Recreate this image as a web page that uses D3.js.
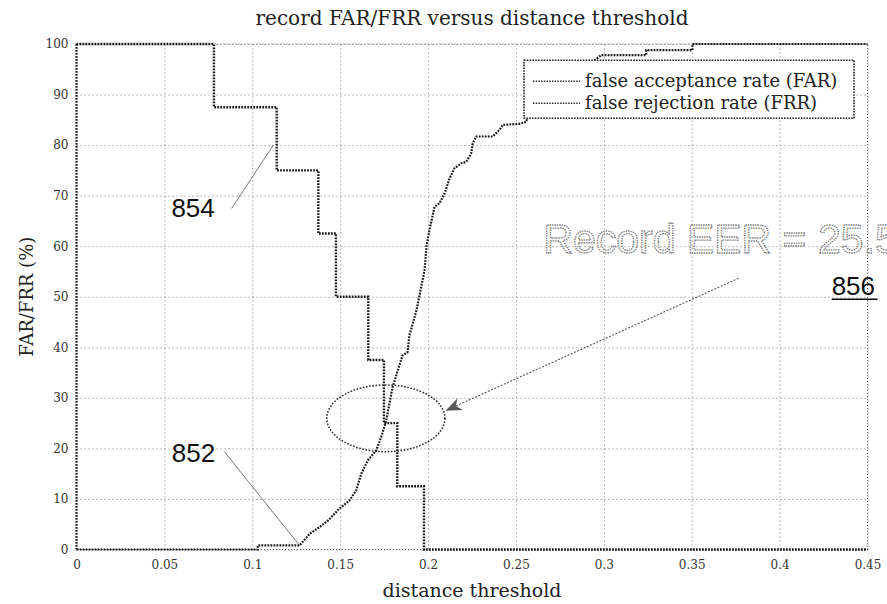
<!DOCTYPE html>
<html>
<head>
<meta charset="utf-8">
<script src="https://cdn.jsdelivr.net/npm/d3@7"></script>
<style>
  body { margin: 0; background: #fff; }
  svg { display: block; }
  text { font-family: "DejaVu Serif", "Liberation Serif", serif; fill: #222; }
</style>
</head>
<body>
<svg width="887" height="604"></svg>
<script>
// tick values and labels
var xTicks = [0, 0.05, 0.1, 0.15, 0.2, 0.25, 0.3, 0.35, 0.4, 0.45];
var xTickLabels = ["0", "0.05", "0.1", "0.15", "0.2", "0.25", "0.3", "0.35", "0.4", "0.45"];
var yTicks = [0, 10, 20, 30, 40, 50, 60, 70, 80, 90, 100];

// false rejection rate: step curve
var frrX = [0, 0.0782, 0.1139, 0.1376, 0.1476, 0.1660, 0.1749, 0.1825, 0.1977, 0.45];
var frrY = [100, 87.5, 75, 62.5, 50, 37.5, 25, 12.5, 0, 0];

// false acceptance rate
var farX = [0, 0.1031, 0.1031, 0.1269, 0.1326, 0.1382, 0.1430, 0.1496, 0.1553, 0.1591,
  0.1620, 0.1657, 0.1705, 0.1733, 0.1762, 0.1798, 0.1855, 0.1883, 0.1894, 0.1934,
  0.1980, 0.1991, 0.2008, 0.2037, 0.2065, 0.2094, 0.2122, 0.2150, 0.2189, 0.2217,
  0.2245, 0.2254, 0.2274, 0.2368, 0.2406, 0.2425, 0.2520, 0.2558, 0.2580, 0.2680,
  0.2800, 0.2900, 0.2985, 0.3241, 0.3241, 0.3504, 0.3504, 0.45];
var farY = [0, 0, 0.8, 0.8, 3.1, 4.4, 5.7, 8.1, 9.7, 11.7,
  15.0, 17.6, 19.6, 22.2, 25.5, 32.1, 38.4, 39.0, 42.4, 47.3,
  55.2, 59.9, 63.2, 67.8, 68.5, 70.4, 73.4, 75.4, 76.4, 76.7,
  78.3, 80.3, 81.7, 81.7, 83.0, 84.0, 84.2, 84.6, 87.0, 90.0,
  93.0, 95.5, 97.8, 97.8, 98.8, 98.8, 100, 100];

var legendLabels = ["false acceptance rate (FAR)", "false rejection rate (FRR)"];

var svg = d3.select("svg");
var margin = { top: 44, right: 19.5, bottom: 54.5, left: 76.5 };
var width = 887 - margin.left - margin.right;
var height = 604 - margin.top - margin.bottom;

var group = svg.append("g")
  .attr("transform", "translate(" + margin.left + "," + margin.top + ")");

var x = d3.scaleLinear().domain([0, 0.45]).range([0, width]);
var y = d3.scaleLinear().domain([0, 100]).range([height, 0]);

// grid
group.append("g")
  .attr("transform", "translate(0," + height + ")")
  .call(d3.axisBottom(x).tickValues(xTicks).tickSize(-height).tickFormat(""))
  .call(function(g) { g.select(".domain").remove(); })
  .selectAll("line")
  .attr("stroke", "#777")
  .attr("stroke-dasharray", "1,3");

group.append("g")
  .call(d3.axisLeft(y).tickValues(yTicks).tickSize(-width).tickFormat(""))
  .call(function(g) { g.select(".domain").remove(); })
  .selectAll("line")
  .attr("stroke", "#777")
  .attr("stroke-dasharray", "1,3");

// box
group.append("rect")
  .attr("width", width)
  .attr("height", height)
  .attr("fill", "none")
  .attr("stroke", "#666")
  .attr("stroke-dasharray", "1,2");
group.append("line")
  .attr("x1", 0).attr("x2", 0).attr("y1", 0).attr("y2", height)
  .attr("stroke", "#222").attr("stroke-width", 2.2).attr("stroke-dasharray", "1.8,1.2");

// tick labels
var xAxis = group.append("g")
  .attr("transform", "translate(0," + height + ")")
  .call(d3.axisBottom(x).tickValues(xTicks).tickSize(0).tickPadding(11)
    .tickFormat(function(d, i) { return xTickLabels[i]; }));
xAxis.select(".domain").remove();
xAxis.selectAll("text").style("font-size", "12px").style("fill", "#333");

var yAxis = group.append("g")
  .call(d3.axisLeft(y).tickValues(yTicks).tickSize(0).tickPadding(8));
yAxis.select(".domain").remove();
yAxis.selectAll("text").style("font-size", "12px").style("fill", "#333");

// curves
var line = d3.line()
  .x(function(d) { return x(d[0]); })
  .y(function(d) { return y(d[1]); });

var frr = frrX.map(function(d, i) { return [d, frrY[i]]; });
var far = farX.map(function(d, i) { return [d, farY[i]]; });

group.append("path")
  .datum(frr)
  .attr("d", line.curve(d3.curveStepAfter))
  .attr("fill", "none")
  .attr("stroke", "#1a1a1a")
  .attr("stroke-width", 2.4)
  .attr("stroke-dasharray", "1.8,1.2");

group.append("path")
  .datum(far)
  .attr("d", line.curve(d3.curveLinear))
  .attr("fill", "none")
  .attr("stroke", "#1a1a1a")
  .attr("stroke-width", 2.2)
  .attr("stroke-dasharray", "1.8,1.2");

// ellipse round the crossing
group.append("ellipse")
  .attr("cx", x(0.176))
  .attr("cy", y(25.95))
  .attr("rx", x(0.0336) - x(0))
  .attr("ry", y(0) - y(6.6))
  .attr("fill", "none")
  .attr("stroke", "#333")
  .attr("stroke-width", 1.6)
  .attr("stroke-dasharray", "1.6,1.6");

// legend
var legend = group.append("g")
  .attr("transform", "translate(" + (x(0.2546)) + "," + (y(96.8)) + ")");
legend.append("rect")
  .attr("width", 330)
  .attr("height", 58)
  .attr("fill", "#fff")
  .attr("stroke", "#222")
  .attr("stroke-width", 1.6)
  .attr("stroke-dasharray", "1.6,1.2");
legendLabels.forEach(function(label, i) {
  legend.append("line")
    .attr("x1", 9).attr("x2", 56)
    .attr("y1", 21 + i * 22).attr("y2", 21 + i * 22)
    .attr("stroke", "#333")
    .attr("stroke-width", 1.4)
    .attr("stroke-dasharray", "1.5,1.2");
  legend.append("text")
    .attr("x", 61)
    .attr("y", 27 + i * 22)
    .style("font-size", "18px")
    .text(label);
});

// annotations
var note = svg.append("g").attr("transform", "translate(" + margin.left + "," + margin.top + ")");
note.append("line")
  .attr("x1", x(0.0883)).attr("y1", y(67.5))
  .attr("x2", x(0.112)).attr("y2", y(80.0))
  .attr("stroke", "#555").attr("stroke-width", 0.8);
note.append("text")
  .attr("x", x(0.054)).attr("y", y(65.8))
  .style("font-family", "'Liberation Sans', Arial, sans-serif")
  .style("font-size", "26px").style("fill", "#111")
  .text("854");

note.append("line")
  .attr("x1", x(0.0841)).attr("y1", y(19.35))
  .attr("x2", x(0.1269)).attr("y2", y(0.8))
  .attr("stroke", "#555").attr("stroke-width", 0.8);
note.append("text")
  .attr("x", x(0.0542)).attr("y", y(17.4))
  .style("font-family", "'Liberation Sans', Arial, sans-serif")
  .style("font-size", "26px").style("fill", "#111")
  .text("852");

svg.append("defs").append("marker")
  .attr("id", "arrow")
  .attr("viewBox", "0 0 10 10")
  .attr("refX", 9).attr("refY", 5)
  .attr("markerWidth", 16).attr("markerHeight", 16)
  .attr("markerUnits", "userSpaceOnUse")
  .attr("orient", "auto")
  .append("path")
  .attr("d", "M0,1 L10,5 L0,9 L3,5 Z")
  .attr("fill", "#555");

note.append("line")
  .attr("x1", x(0.3766)).attr("y1", y(53.65))
  .attr("x2", x(0.2108)).attr("y2", y(27.6))
  .attr("stroke", "#555").attr("stroke-width", 1.1)
  .attr("stroke-dasharray", "2,1.5")
  .attr("marker-end", "url(#arrow)");

// big outlined note, runs off the right edge as in the source
note.append("text")
  .attr("x", x(0.2656)).attr("y", y(58.6))
  .style("font-family", "'Liberation Sans', Arial, sans-serif")
  .style("font-size", "41px")
  .style("fill", "none")
  .style("stroke", "#7a7a7a")
  .style("stroke-width", "1.3")
  .style("stroke-dasharray", "1.4,1")
  .text("Record EER = 25.5%");

note.append("text")
  .attr("x", x(0.4296)).attr("y", y(50.3))
  .style("font-family", "'Liberation Sans', Arial, sans-serif")
  .style("font-size", "26px").style("fill", "#111")
  .text("856");
note.append("line")
  .attr("x1", x(0.4296)).attr("x2", x(0.4296) + 46)
  .attr("y1", y(50.3) + 4).attr("y2", y(50.3) + 4)
  .attr("stroke", "#111").attr("stroke-width", 1.5);

// titles
svg.append("text")
  .attr("x", margin.left + width / 2)
  .attr("y", 25)
  .attr("text-anchor", "middle")
  .style("font-size", "20px")
  .text("record FAR/FRR versus distance threshold");

svg.append("text")
  .attr("x", margin.left + width / 2)
  .attr("y", 597)
  .attr("text-anchor", "middle")
  .style("font-size", "19px")
  .text("distance threshold");

svg.append("text")
  .attr("transform", "translate(33," + (margin.top + height / 2) + ") rotate(-90)")
  .attr("text-anchor", "middle")
  .style("font-size", "18px")
  .text("FAR/FRR (%)");
</script>
</body>
</html>
